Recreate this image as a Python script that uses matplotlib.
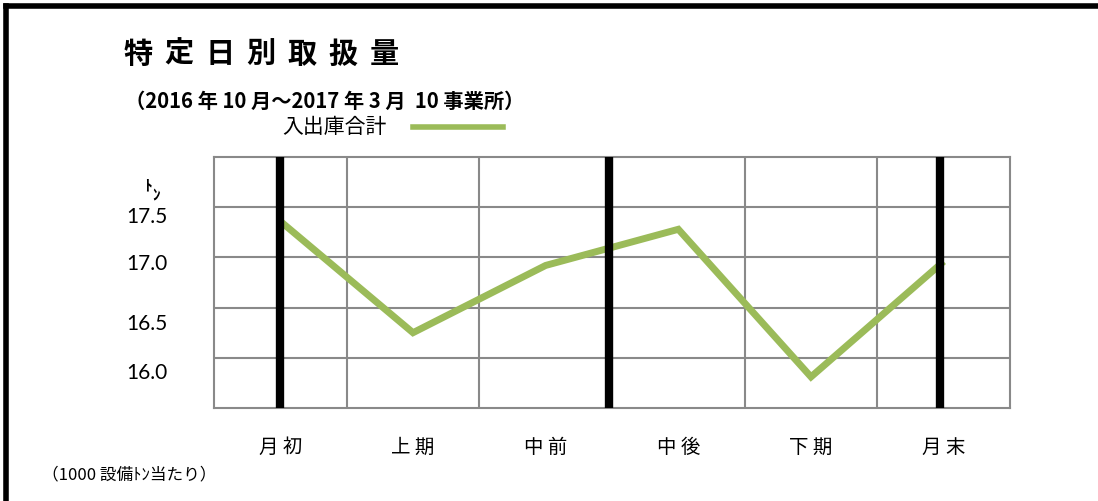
import matplotlib.pyplot as plt
from matplotlib.lines import Line2D

plt.rcParams['font.family'] = ['Noto Sans CJK JP', 'DejaVu Sans']

# データ
categories = ['月 初', '上 期', '中 前', '中 後', '下 期', '月 末']
values = [17.36, 16.25, 16.92, 17.28, 15.81, 16.96]
y_labels = ['17.5', '17.0', '16.5', '16.0']
y_label_pos = [17.40, 16.93, 16.34, 15.85]
black_lines = [0.0, 2.48, 4.97]
title = '特定日別取扱量'
subtitle = '（2016 年 10 月～2017 年 3 月  10 事業所）'
legend_label = '入出庫合計'
note = '（1000 設備ﾄﾝ当たり）'

W, H = 1098, 501
fig = plt.figure(figsize=(W / 100, H / 100), dpi=100)
ax = fig.add_axes([214 / W, 1 - 408 / H, 796 / W, 251 / H])

grid_col = '#898989'
green = '#9BBB59'

x = list(range(len(values)))
ax.plot(x, values, color=green, lw=5, solid_joinstyle='miter', solid_capstyle='butt', zorder=3)
for bx in black_lines:
    ax.axvline(bx, color='black', lw=6, zorder=4)

ax.set_xlim(-0.5, 5.5)
ax.set_ylim(15.5, 18.0)
ax.set_xticks([i - 0.5 for i in range(1, 6)])
ax.set_yticks([15.5 + 0.5 * i for i in range(1, 5)])
ax.grid(True, color=grid_col, lw=1.5)
ax.tick_params(length=0, labelbottom=False, labelleft=False)
for s in ax.spines.values():
    s.set_color(grid_col)
    s.set_linewidth(1.5)

# 軸ラベル
for lab, yv in zip(y_labels, y_label_pos):
    ax.text(-0.85, yv, lab, ha='right', va='center', fontsize=15,
            family=['Lato', 'DejaVu Sans'], transform=ax.transData)
ax.text(-1.0, 17.72, 'ﾄ', fontsize=11, weight='bold', ha='center', va='center')
ax.text(-0.94, 17.62, 'ﾝ', fontsize=11, weight='bold', ha='center', va='center')
for i, c in enumerate(categories):
    ax.text(i, 15.11, c, ha='center', va='center', fontsize=14)

# タイトル
for i, ch in enumerate(title):
    fig.text((138 + i * 41) / W, 1 - 54 / H, ch, ha='center', va='center',
             fontsize=21, weight='bold')
fig.text(125 / W, 1 - 101 / H, subtitle, ha='left', va='center', fontsize=14.6, weight='bold')

# 凡例
fig.text(387 / W, 1 - 127 / H, legend_label, ha='right', va='center', fontsize=15)
fig.add_artist(Line2D([413 / W, 503 / W], [1 - 127 / H, 1 - 127 / H], color=green, lw=4,
                      transform=fig.transFigure))

fig.text(42 / W, 1 - 475 / H, note, ha='left', va='center', fontsize=12)

# 枠線
fig.add_artist(Line2D([5.5 / W, 1], [1 - 5.5 / H, 1 - 5.5 / H], color='black', lw=4,
                      transform=fig.transFigure, solid_capstyle='projecting'))
fig.add_artist(Line2D([5.5 / W, 5.5 / W], [0, 1 - 5.5 / H], color='black', lw=4,
                      transform=fig.transFigure))

fig.savefig('out.png', dpi=100)
